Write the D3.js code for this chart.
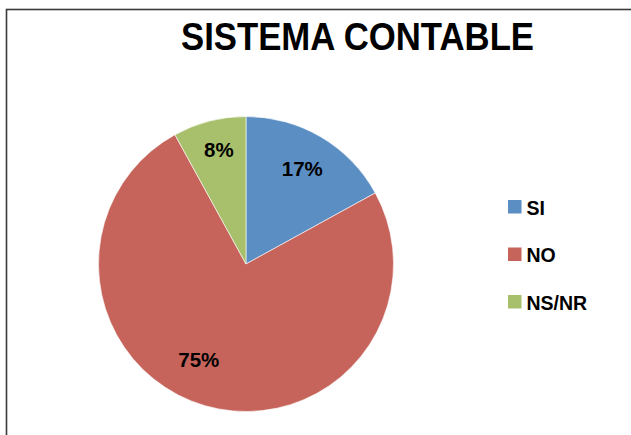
<!DOCTYPE html>
<html>
<head>
<meta charset="utf-8">
<script src="https://cdn.jsdelivr.net/npm/d3@7"></script>
<style>
  html, body { margin: 0; padding: 0; background: #fff; }
  svg { display: block; }
</style>
</head>
<body>
<svg id="chart" width="631" height="435"></svg>
<script>
const title = "SISTEMA CONTABLE";
const categories = ["SI", "NO", "NS/NR"];
const values = [17, 75, 8];
const labels = ["17%", "75%", "8%"];
const colors = ["#5b8ec3", "#c6645c", "#a8c06c"];

const svg = d3.select("#chart");

svg.append("rect")
  .attr("x", 6.5).attr("y", 9.5)
  .attr("width", 700).attr("height", 500)
  .attr("fill", "none")
  .attr("stroke", "#3a3a3a")
  .attr("stroke-width", 1.6);

svg.append("text")
  .attr("x", 181).attr("y", 50)
  .attr("font-family", "Liberation Sans, Arial, sans-serif")
  .attr("font-weight", "bold")
  .attr("font-size", 39)
  .attr("textLength", 353)
  .attr("lengthAdjust", "spacingAndGlyphs")
  .attr("fill", "#000")
  .text(title);

const cx = 246, cy = 264, r = 147.5;
const data = categories.map((c, i) => ({cat: c, value: values[i], label: labels[i], color: colors[i]}));

const pie = d3.pie().value(d => d.value).sort(null);
const arc = d3.arc().innerRadius(0).outerRadius(r);

const g = svg.append("g").attr("transform", `translate(${cx},${cy})`);
const arcs = pie(data);

g.selectAll("path.slice")
  .data(arcs)
  .enter().append("path")
  .attr("class", "slice")
  .attr("d", arc)
  .attr("fill", d => d.data.color)
  .attr("stroke", "#ffffff")
  .attr("stroke-width", 0.6);

// label placement (best-fit style): radial factor and angular shift per slice
const labelR = {"SI": 0.75, "NO": 0.725, "NS/NR": 0.795};
const labelShift = {"SI": 0, "NO": 10 * Math.PI / 180, "NS/NR": 1 * Math.PI / 180};
g.selectAll("text.lbl")
  .data(arcs)
  .enter().append("text")
  .attr("class", "lbl")
  .attr("transform", d => {
    const a = (d.startAngle + d.endAngle) / 2 + labelShift[d.data.cat];
    const rr = r * labelR[d.data.cat];
    return `translate(${Math.sin(a) * rr},${-Math.cos(a) * rr})`;
  })
  .attr("text-anchor", "middle")
  .attr("dy", "0.36em")
  .attr("font-family", "Liberation Sans, Arial, sans-serif")
  .attr("font-weight", "bold")
  .attr("font-size", 20.5)
  .attr("fill", "#000")
  .text(d => d.data.label);

const legend = svg.append("g").attr("transform", "translate(508,200)");
const yL = d3.scalePoint().domain(categories).range([0, 95]);
const items = legend.selectAll("g.item").data(data).enter().append("g")
  .attr("class", "item")
  .attr("transform", d => `translate(0,${yL(d.cat)})`);
items.append("rect")
  .attr("width", 13.5).attr("height", 13.5)
  .attr("fill", d => d.color);
items.append("text")
  .attr("x", 18.5).attr("y", 14.5)
  .attr("font-family", "Liberation Sans, Arial, sans-serif")
  .attr("font-weight", "bold")
  .attr("font-size", 19.5)
  .attr("fill", "#000")
  .text(d => d.cat);
</script>
</body>
</html>
